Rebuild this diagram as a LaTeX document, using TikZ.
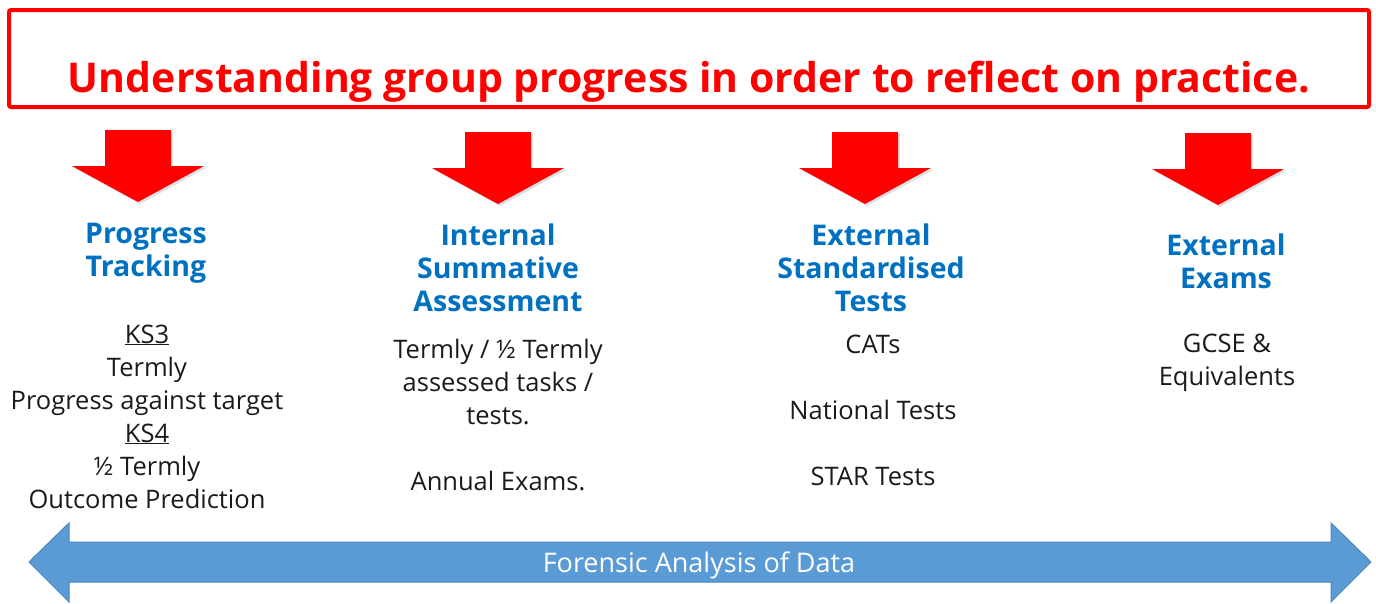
\documentclass[tikz,border=0pt]{standalone}
\usepackage{fontspec}
\setmainfont{Open Sans}
\usetikzlibrary{shadows}

\definecolor{alertred}{HTML}{FF0000}
\definecolor{headblue}{HTML}{0070C0}
\definecolor{barblue}{HTML}{5B9BD5}
\definecolor{barline}{HTML}{4A86BE}
\definecolor{bodyink}{HTML}{1A1A1A}

\tikzset{
  downarrow/.pic={
    \path[fill=alertred, drop shadow={opacity=.25, shadow xshift=2pt, shadow yshift=-2pt}]
      (-33,0) -- (33,0) -- (33,36) -- (66,36) -- (0,72) -- (-66,36) -- (-33,36) -- cycle;
  },
  % anchor=base sits on the last line of a block
  heading/.style={anchor=base, align=center, text=headblue, inner sep=0pt,
    font=\fontsize{28.5}{33}\selectfont\bfseries},
  bodytext/.style={anchor=base, align=center, text=bodyink, inner sep=0pt,
    font=\fontsize{25.5}{33}\selectfont}
}

\begin{document}
\begin{tikzpicture}[x=1pt,y=-1pt]
      \useasboundingbox (0,0) rectangle (1376,603);

      % banner
      \draw[alertred, line width=4pt, rounded corners=2pt] (9,10) rectangle (1369,107);
      \node[anchor=base, text=alertred, inner sep=0pt, font=\fontsize{41}{50}\selectfont\bfseries]
        (banner) at (689,92) {Understanding group progress in order to reflect on practice.};

      % red arrows
      \pic at (138,130) {downarrow};
      \pic at (498,132) {downarrow};
      \pic at (865,132) {downarrow};
      \pic at (1218,133) {downarrow};

      \begin{scope}[every node/.style={heading}]
        \node (h1) at (146,276) {Progress\\Tracking};
        \node (h2) at (498,311) {Internal\\Summative\\Assessment};
        \node (h3) at (871,311) {External\\Standardised\\Tests};
        \node (h4) at (1226,288) {External\\Exams};
      \end{scope}

      \begin{scope}[every node/.style={bodytext}]
        \node (b1) at (147,508) {\underline{KS3}\\Termly\\Progress against target\\\underline{KS4}\\½ Termly\\Outcome Prediction};
        \node (b2) at (498,490) {Termly / ½ Termly\\assessed tasks /\\tests.\\[33pt]Annual Exams.};
        \node (b3) at (873,485) {CATs\\[33pt]National Tests\\[33pt]STAR Tests};
        \node (b4) at (1227,385) {GCSE \&\\Equivalents};
      \end{scope}

      % data bar
      \path[fill=barblue, draw=barline, line width=1pt]
        (29,562) -- (69,523) -- (69,542) -- (1331,542) -- (1331,523) -- (1371,562)
        -- (1331,602) -- (1331,582) -- (69,582) -- (69,602) -- cycle;
      \node[anchor=base, text=white, inner sep=0pt, font=\fontsize{27}{30}\selectfont]
        (bar) at (699,572) {Forensic Analysis of Data};

    \end{tikzpicture}
\end{document}
